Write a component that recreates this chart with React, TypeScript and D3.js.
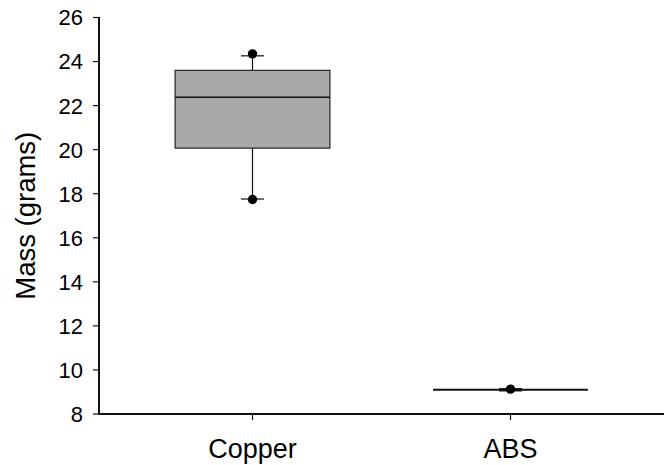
import React from "react";
import * as d3 from "d3";

const categories = ["Copper", "ABS"];
const whiskerLow = [17.76, 9.1];
const q1 = [20.07, 9.1];
const median = [22.38, 9.1];
const q3 = [23.6, 9.1];
const whiskerHigh = [24.26, 9.1];
const outliers = [[24.35, 17.74], [9.13]];
const yTicks = [8, 10, 12, 14, 16, 18, 20, 22, 24, 26];

const W = 664;
const H = 465;
const left = 99;
const right = 664;
const top = 17.5;
const bottom = 414;

export default function App() {
  const x = d3.scalePoint<string>().domain(categories).range([left, right]).padding(0.595);
  const y = d3.scaleLinear().domain([8, 26]).range([bottom, top]);
  const boxW = x.step() * 0.6;
  const capW = 23;
  const font = "'Liberation Sans', Arial, sans-serif";

  return (
    <svg width={W} height={H} style={{ position: "absolute", left: 0, top: 0, background: "#fff" }}>
      {/* boxes */}
      {categories.map((c, i) => {
        const cx = x(c)!;
        const collapsed = q3[i] - q1[i] < 0.05;
        return (
          <g key={c}>
            <line x1={cx} x2={cx} y1={y(q3[i])} y2={y(whiskerHigh[i])} stroke="#111" strokeWidth={1.2} />
            <line x1={cx} x2={cx} y1={y(q1[i])} y2={y(whiskerLow[i])} stroke="#111" strokeWidth={1.2} />
            <line x1={cx - capW / 2} x2={cx + capW / 2} y1={y(whiskerHigh[i])} y2={y(whiskerHigh[i])} stroke="#111" strokeWidth={collapsed ? 3 : 1.2} />
            <line x1={cx - capW / 2} x2={cx + capW / 2} y1={y(whiskerLow[i])} y2={y(whiskerLow[i])} stroke="#111" strokeWidth={collapsed ? 3 : 1.2} />
            {collapsed ? (
              <line x1={cx - boxW / 2} x2={cx + boxW / 2} y1={y(median[i])} y2={y(median[i])} stroke="#111" strokeWidth={2} />
            ) : (
              <>
                <rect x={cx - boxW / 2} y={y(q3[i])} width={boxW} height={y(q1[i]) - y(q3[i])} fill="#a9a9a9" stroke="#222" strokeWidth={1.2} />
                <line x1={cx - boxW / 2} x2={cx + boxW / 2} y1={y(median[i])} y2={y(median[i])} stroke="#111" strokeWidth={1.5} />
              </>
            )}
            {outliers[i].map((v, j) => (
              <circle key={j} cx={cx} cy={y(v)} r={4.7} fill="#000" />
            ))}
          </g>
        );
      })}

      {/* y axis */}
      <line x1={left} x2={left} y1={top - 0.5} y2={bottom + 1} stroke="#111" strokeWidth={2} />
      {yTicks.map((t) => (
        <g key={t}>
          <line x1={left - 6} x2={left} y1={y(t)} y2={y(t)} stroke="#111" strokeWidth={1.2} />
          <text x={83} y={y(t)} dy="0.36em" textAnchor="end" fontFamily={font} fontSize={22} fill="#000">
            {t}
          </text>
        </g>
      ))}

      {/* x axis */}
      <line x1={left - 1} x2={right} y1={bottom} y2={bottom} stroke="#111" strokeWidth={2} />
      {categories.map((c) => (
        <g key={c}>
          <line x1={x(c)!} x2={x(c)!} y1={bottom} y2={bottom + 6} stroke="#111" strokeWidth={1.2} />
          <text x={x(c)!} y={458} textAnchor="middle" fontFamily={font} fontSize={27} fill="#000">
            {c}
          </text>
        </g>
      ))}

      {/* y label */}
      <text
        transform={`translate(35, ${(top + bottom) / 2}) rotate(-90)`}
        textAnchor="middle"
        fontFamily={font}
        fontSize={27.5}
        fill="#000"
      >
        Mass (grams)
      </text>
    </svg>
  );
}
